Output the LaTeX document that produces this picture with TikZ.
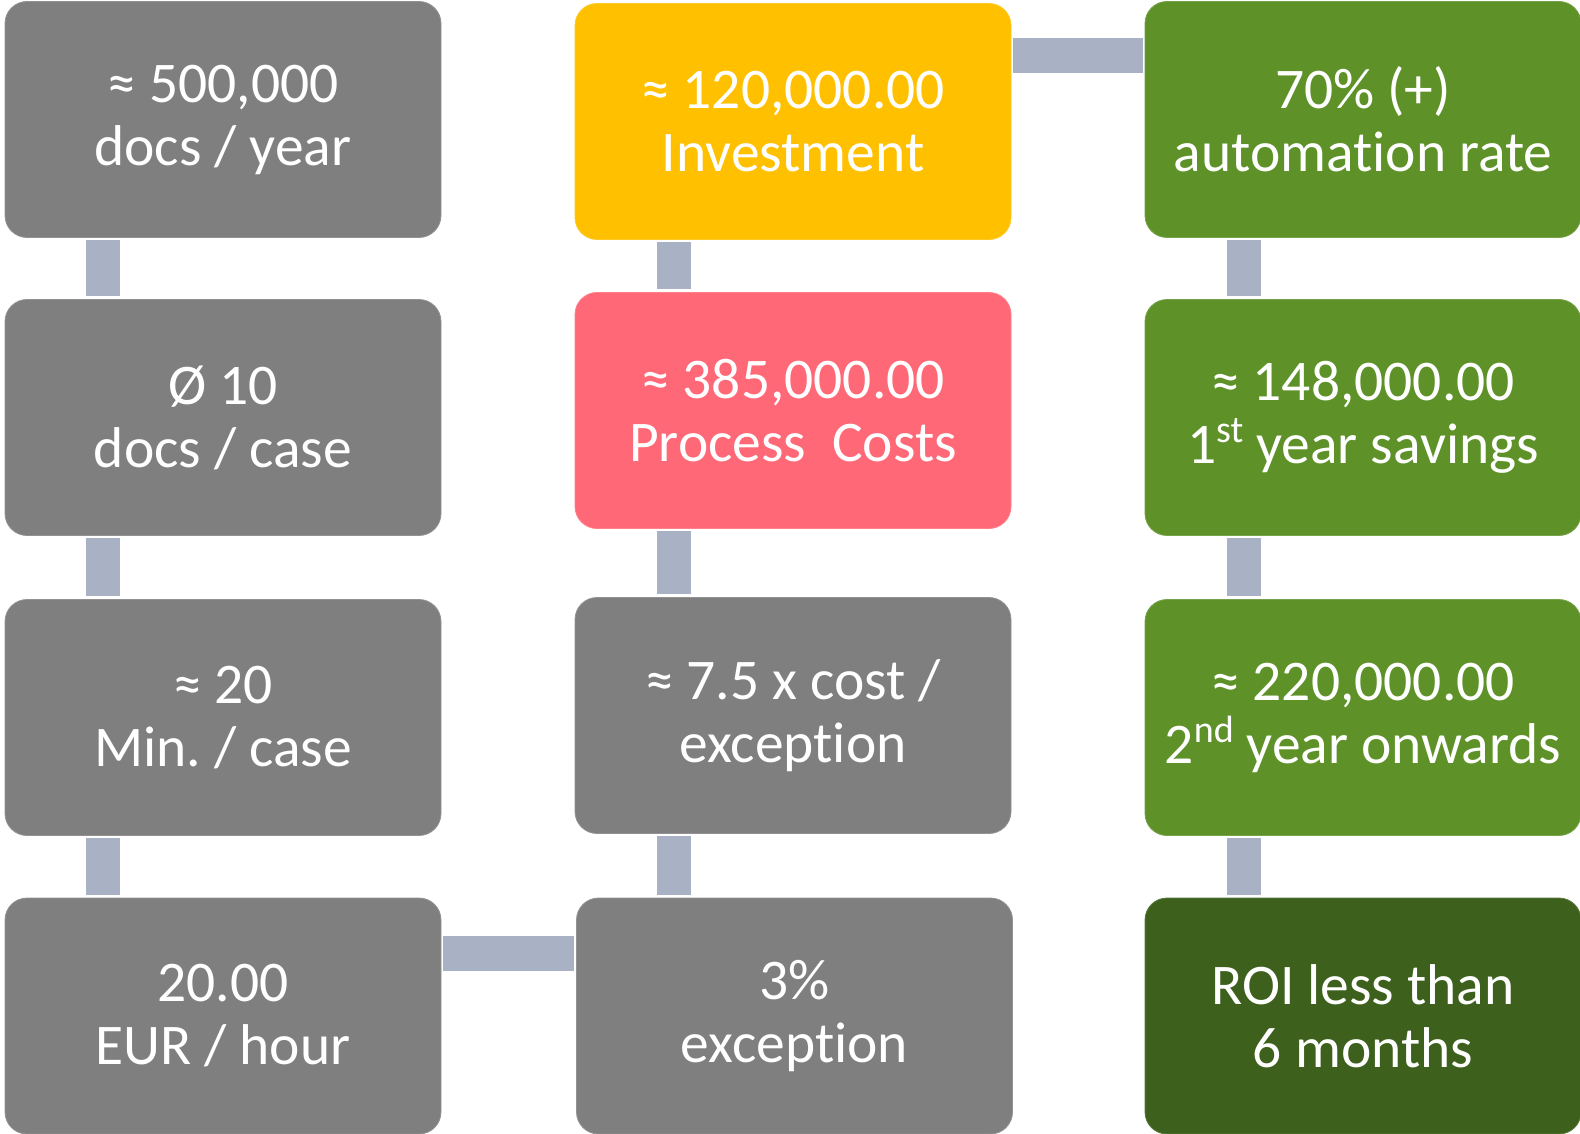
\documentclass[tikz,border=0pt]{standalone}
\usepackage{fontspec}
\setmainfont{Carlito}[Ligatures=NoCommon]
\frenchspacing
\definecolor{cgray}{HTML}{7F7F7F}
\definecolor{cyellow}{HTML}{FFC000}
\definecolor{cred}{HTML}{FF6877}
\definecolor{cgreen}{HTML}{5E9229}
\definecolor{cdark}{HTML}{3D611C}
\definecolor{cconn}{HTML}{A9B1C4}
\newcommand{\supx}[1]{\raisebox{0.36em}{\fontsize{38}{38}\selectfont #1}}
\tikzset{
  box/.style={rectangle, rounded corners=22pt, minimum width=436pt, minimum height=236pt,
    inner sep=0pt, align=center, text=white, draw=#1!85!white, line width=0.8pt, fill=#1,
    font=\fontsize{57.5}{63}\selectfont},
  conn/.style={draw=cconn, line width=34pt},
}
\begin{document}
\begin{tikzpicture}[x=1pt,y=-1pt]
\useasboundingbox (0,0) rectangle (1580,1134);
% column 1
\node[box=cgray] (b11) at (223,119.5) {≈ 500,000\\docs / year};
\node[box=cgray] (b12) at (223,417.5) {Ø 10\\docs / case};
\node[box=cgray] (b13) at (223,717.5) {≈ 20\\Min. / case};
\node[box=cgray] (b14) at (223,1016) {20.00\\EUR / hour};
% column 2
\node[box=cyellow] (b21) at (793,121.5) {≈ 120,000.00\\Investment};
\node[box=cred] (b22) at (793,410.5) {≈ 385,000.00\\Process\ \ Costs};
\node[box=cgray] (b23) at (793,715.5) {≈ 7.5 x cost /\\exception};
\node[box=cgray] (b24) at (794.5,1016) {3\%\\exception};
% column 3
\node[box=cgreen] (b31) at (1363,119.5) {70\% (+)\\automation rate};
\node[box=cgreen] (b32) at (1363,417.5) {≈ 148,000.00\\1\supx{st} year savings};
\node[box=cgreen] (b33) at (1363,717.5) {≈ 220,000.00\\2\supx{nd} year onwards};
\node[box=cdark] (b34) at (1363,1016) {ROI less than\\6 months};
% vertical connectors
\draw[conn, shorten <=2pt, shorten >=3pt] ([xshift=98.5pt]b11.south west) -- ([xshift=98.5pt]b12.north west);
\draw[conn, shorten <=2pt, shorten >=3pt] ([xshift=98.5pt]b12.south west) -- ([xshift=98.5pt]b13.north west);
\draw[conn, shorten <=2pt, shorten >=3pt] ([xshift=98.5pt]b13.south west) -- ([xshift=98.5pt]b14.north west);
\draw[conn, shorten <=2pt, shorten >=3pt] ([xshift=99pt]b21.south west) -- ([xshift=99pt]b22.north west);
\draw[conn, shorten <=2pt, shorten >=3pt] ([xshift=99pt]b22.south west) -- ([xshift=99pt]b23.north west);
\draw[conn, shorten <=2pt, shorten >=3pt] ([xshift=99pt]b23.south west) -- ([xshift=97.5pt]b24.north west);
\draw[conn, shorten <=2pt, shorten >=3pt] ([xshift=99pt]b31.south west) -- ([xshift=99pt]b32.north west);
\draw[conn, shorten <=2pt, shorten >=3pt] ([xshift=99pt]b32.south west) -- ([xshift=99pt]b33.north west);
\draw[conn, shorten <=2pt, shorten >=3pt] ([xshift=99pt]b33.south west) -- ([xshift=99pt]b34.north west);
% horizontal connectors
\draw[conn, line width=35pt, shorten <=2pt, shorten >=2pt] ([yshift=-52.5pt]b21.north east) -- ([yshift=-52.5pt]b21.north east -| b31.west);
\draw[conn, line width=35pt, shorten <=2pt, shorten >=2pt] ([yshift=-55.5pt]b14.north east) -- ([yshift=-55.5pt]b14.north east -| b24.west);
\end{tikzpicture}
\end{document}
